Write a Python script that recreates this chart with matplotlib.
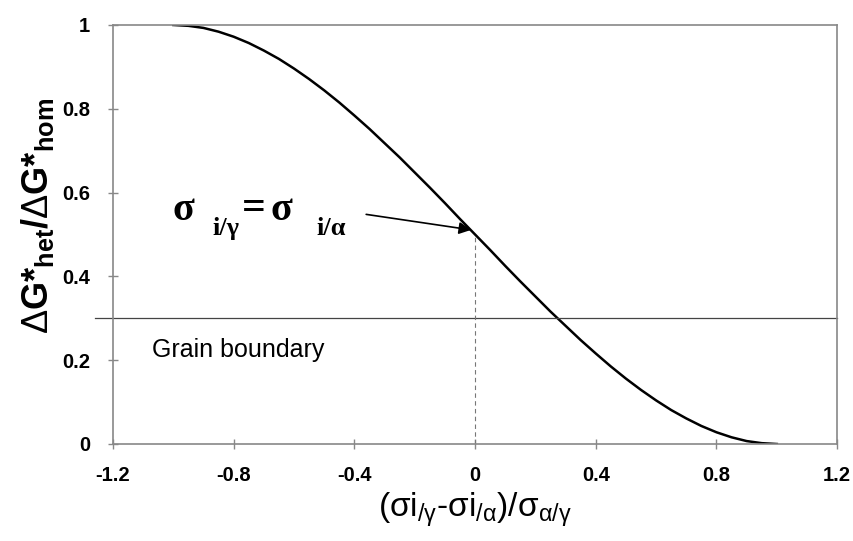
import matplotlib.pyplot as plt

plt.rcParams['mathtext.fontset'] = 'custom'
plt.rcParams['mathtext.rm'] = 'Liberation Sans'
plt.rcParams['mathtext.it'] = 'Liberation Sans:italic'
plt.rcParams['mathtext.bf'] = 'Liberation Sans:bold'
plt.rcParams['font.family'] = ['Liberation Sans', 'DejaVu Sans']

# Curve
x = [-1.0, -0.95, -0.9, -0.85, -0.8, -0.75, -0.7, -0.65, -0.6, -0.55, -0.5,
     -0.45, -0.4, -0.35, -0.3, -0.25, -0.2, -0.15, -0.1, -0.05, 0.0,
     0.05, 0.1, 0.15, 0.2, 0.25, 0.3, 0.35, 0.4, 0.45, 0.5,
     0.55, 0.6, 0.65, 0.7, 0.75, 0.8, 0.85, 0.9, 0.95, 1.0]
y = [1.0, 0.998, 0.993, 0.984, 0.972, 0.957, 0.939, 0.919, 0.896, 0.871, 0.844,
     0.815, 0.784, 0.752, 0.718, 0.684, 0.648, 0.612, 0.575, 0.537, 0.5,
     0.463, 0.425, 0.388, 0.352, 0.316, 0.282, 0.248, 0.216, 0.185, 0.156,
     0.129, 0.104, 0.081, 0.061, 0.043, 0.028, 0.016, 0.007, 0.002, 0.0]

grain_boundary = 0.3
equal_point = (0.0, 0.5)
xticks = [-1.2, -0.8, -0.4, 0, 0.4, 0.8, 1.2]
yticks = [0, 0.2, 0.4, 0.6, 0.8, 1]

fig = plt.figure(figsize=(8.54, 5.41), dpi=100)
ax = fig.add_axes([0.1323, 0.1793, 0.848, 0.7745])

ax.plot(x, y, color='black', lw=1.8)

# grain boundary level
ax.plot([-1.26, 1.2], [grain_boundary, grain_boundary], color='#444444', lw=0.9, clip_on=False)
ax.text(-1.07, 0.224, 'Grain boundary', fontsize=18, va='center', ha='left')

# dashed guide at x=0
ax.plot([equal_point[0], equal_point[0]], [0, equal_point[1]], color='#777777', lw=0.8, ls=(0, (4, 3)))

ax.annotate('', xy=(equal_point[0] - 0.004, equal_point[1] + 0.01), xytext=(-0.37, 0.549),
            arrowprops=dict(arrowstyle='-|>', color='black', lw=1.2, mutation_scale=18))

# sigma_i/gamma = sigma_i/alpha, built from pieces
serif = dict(family='Liberation Serif', va='center', ha='left', fontweight='bold')
ax.text(-1.003, 0.558, 'σ', fontsize=29, **serif)
ax.text(-0.871, 0.515, 'i/γ', fontsize=19, **serif)
ax.text(-0.772, 0.562, '=', fontsize=30, **serif)
ax.text(-0.679, 0.558, 'σ', fontsize=29, **serif)
ax.text(-0.526, 0.515, 'i/α', fontsize=19, **serif)

ax.set_xlim(-1.2, 1.2)
ax.set_ylim(0, 1)
ax.set_xticks(xticks)
ax.set_xticklabels(['-1.2', '-0.8', '-0.4', '0', '0.4', '0.8', '1.2'])
ax.set_yticks(yticks)
ax.set_yticklabels(['0', '0.2', '0.4', '0.6', '0.8', '1'])
ax.tick_params(axis='x', pad=12)
ax.tick_params(axis='y', pad=13)
ax.tick_params(direction='inout', length=7, width=1, color='#888888', labelsize=14.5)
for lab in ax.get_xticklabels() + ax.get_yticklabels():
    lab.set_fontweight('bold')
for s in ax.spines.values():
    s.set_color('#888888')
    s.set_linewidth(1.2)

ax.set_xlabel(r'(σi$_{\mathrm{/γ}}$-σi$_{\mathrm{/α}}$)/σ$_{\mathrm{α/γ}}$', fontsize=24, labelpad=4)
ax.set_ylabel(r'$\mathrm{Δ}$G*$_{\mathbf{het}}$/$\mathrm{Δ}$G*$_{\mathbf{hom}}$', fontsize=26, fontweight='bold')
ax.yaxis.set_label_coords(-0.078, 0.545)

fig.savefig('out.png', dpi=100)
